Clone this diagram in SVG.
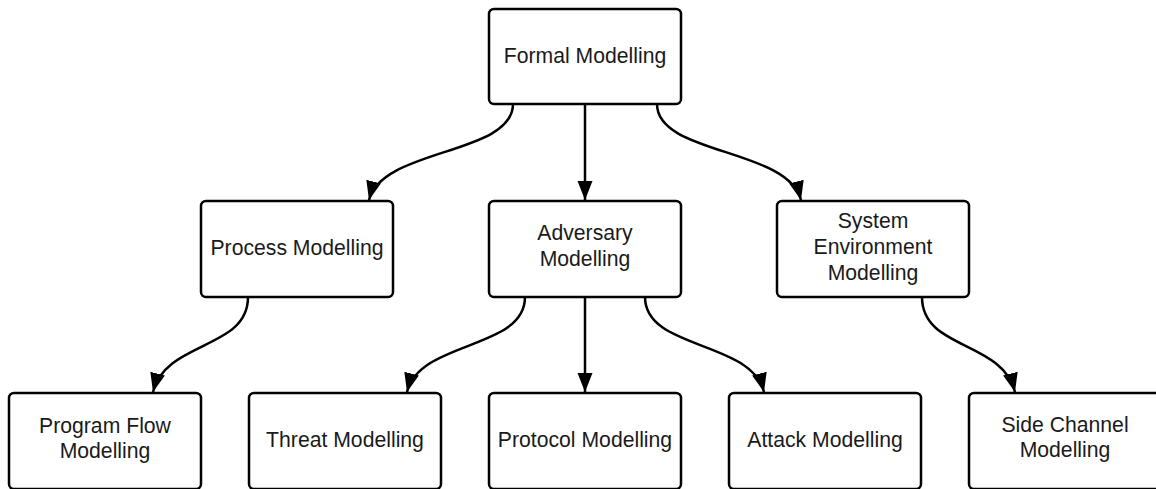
<svg xmlns="http://www.w3.org/2000/svg" width="1156" height="489" viewBox="0 0 1156 489">
<style>
.box{fill:#fff;stroke:#000;stroke-width:2.5}
.lbl{font-family:"Liberation Sans",Arial,sans-serif;font-size:21.2px;fill:#1a1a1a;text-anchor:middle}
.edge{fill:none;stroke:#000;stroke-width:2.5}
</style>
<defs>
<marker id="arr" markerUnits="userSpaceOnUse" markerWidth="22" markerHeight="18" refX="19" refY="7.5" orient="auto" viewBox="0 0 22 18">
<path d="M0,0 L19,7.5 L0,15 z" fill="#000"/>
</marker>
</defs>
<rect width="1156" height="489" fill="#fff"/>
<g id="connectors">
<path class="edge" marker-end="url(#arr)" d="M513,104 C513,155 382,148 369,200"/>
<path class="edge" marker-end="url(#arr)" d="M585,104 L585,200"/>
<path class="edge" marker-end="url(#arr)" d="M657,104 C657,155 788,148 801,200"/>
<path class="edge" marker-end="url(#arr)" d="M248,297 C248,350 166,340 153,392"/>
<path class="edge" marker-end="url(#arr)" d="M525,297 C525,350 420,340 407,392"/>
<path class="edge" marker-end="url(#arr)" d="M585,297 L585,392"/>
<path class="edge" marker-end="url(#arr)" d="M645,297 C645,350 751,340 764,392"/>
<path class="edge" marker-end="url(#arr)" d="M922,297 C922,350 1002,340 1015,392"/>
</g>
<g id="formal"><rect class="box" x="489" y="9" width="192" height="95" rx="5"/><text class="lbl" x="585" y="63">Formal Modelling</text></g>
<g id="process"><rect class="box" x="201" y="201" width="192" height="96" rx="5"/><text class="lbl" x="297" y="255">Process Modelling</text></g>
<g id="adversary"><rect class="box" x="489" y="201" width="192" height="96" rx="5"/><text class="lbl" x="585" y="240">Adversary</text><text class="lbl" x="585" y="266">Modelling</text></g>
<g id="system"><rect class="box" x="777" y="201" width="192" height="96" rx="5"/><text class="lbl" x="873" y="228">System</text><text class="lbl" x="873" y="254">Environment</text><text class="lbl" x="873" y="280">Modelling</text></g>
<g id="programflow"><rect class="box" x="9" y="393" width="192" height="96" rx="5"/><text class="lbl" x="105" y="433">Program Flow</text><text class="lbl" x="105" y="458">Modelling</text></g>
<g id="threat"><rect class="box" x="249" y="393" width="192" height="96" rx="5"/><text class="lbl" x="345" y="447">Threat Modelling</text></g>
<g id="protocol"><rect class="box" x="489" y="393" width="192" height="96" rx="5"/><text class="lbl" x="585" y="447">Protocol Modelling</text></g>
<g id="attack"><rect class="box" x="729" y="393" width="192" height="96" rx="5"/><text class="lbl" x="825" y="447">Attack Modelling</text></g>
<g id="sidechannel"><rect class="box" x="969" y="393" width="192" height="96" rx="5"/><text class="lbl" x="1065" y="432">Side Channel</text><text class="lbl" x="1065" y="457">Modelling</text></g>
</svg>
